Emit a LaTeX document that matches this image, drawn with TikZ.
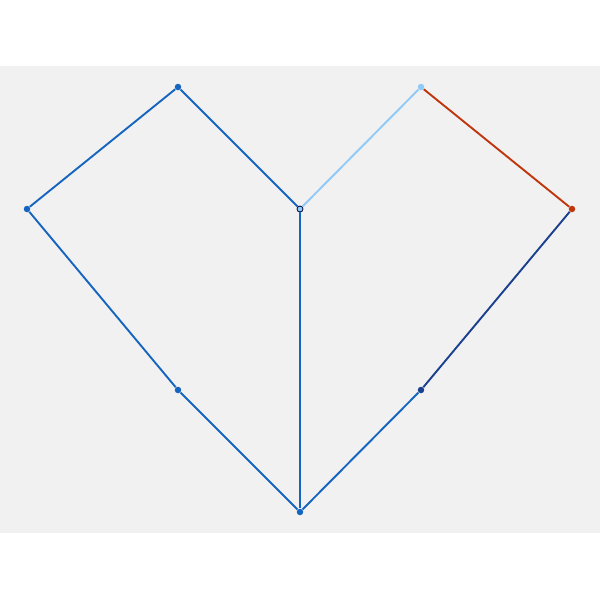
\documentclass[tikz,border=0pt]{standalone}
\usepackage{tikz}
\usetikzlibrary{positioning}
\definecolor{edgeblue}{HTML}{1565C0}
\definecolor{lightedge}{HTML}{90CAF9}
\definecolor{rustedge}{HTML}{BF360C}
\definecolor{navyedge}{HTML}{1A3F8F}
\definecolor{panelgray}{HTML}{F1F1F1}
\tikzset{
  vdot/.style={circle, inner sep=0pt, minimum size=0.13cm, fill=#1},
  vdot/.default=edgeblue,
  hubdot/.style={circle, inner sep=0pt, minimum size=0.12cm, fill=lightedge, draw=black!80!blue, line width=0.016cm},
  edgeline/.style={line width=0.038cm, color=#1},
  edgeline/.default=edgeblue,
}
\begin{document}
\begin{tikzpicture}[x=0.02cm, y=-0.02cm]
  \useasboundingbox (0,0) rectangle (600,600);
  % Panel
  \fill[panelgray] (0,66) rectangle (600,533);

  % Vertices
  \node[vdot] (topleft) at (178,87) {};
  \node[vdot] (left) at (27,209) {};
  \node[vdot] (lowleft) at (178,390) {};
  \node[vdot] (bottom) at (300,512) {};
  \node[vdot=lightedge] (topright) at (421,87) {};
  \node[vdot=rustedge] (right) at (572,209) {};
  \node[vdot=navyedge] (lowright) at (421,390) {};
  \node[hubdot] (hub) at (300,209) {};

  % Edges
  \draw[edgeline] (hub) -- (topleft) -- (left) -- (lowleft) -- (bottom) -- (lowright);
  \draw[edgeline] (hub) -- (bottom);
  \draw[edgeline=lightedge] (hub) -- (topright);
  \draw[edgeline=rustedge] (topright) -- (right);
  \draw[edgeline=navyedge] (right) -- (lowright);
\end{tikzpicture}
\end{document}
